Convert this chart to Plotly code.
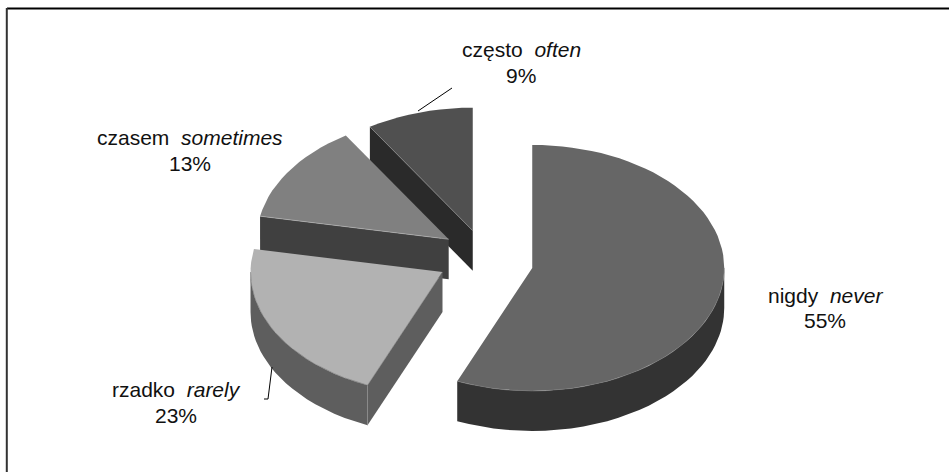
import numpy as np
import plotly.graph_objects as go

# Survey shares, clockwise from twelve o'clock
labels_pl = ["nigdy", "rzadko", "czasem", "często"]
labels_en = ["never", "rarely", "sometimes", "often"]
shares = [55, 23, 13, 9]

top_colors = ["#666666", "#b2b2b2", "#808080", "#505050"]
wall_colors = ["#333333", "#5e5e5e", "#404040", "#2a2a2a"]
rim_colors = ["#7c7c7c", "#6c6c6c", "#b8b8b8", "#8c8c8c"]

# Draw order: back of the pie first
draw_order = [3, 2, 1, 0]

# Pie geometry in pie units: the radius is 1 on both axes, each axis has its own pixel scale
W, H = 949, 472
PX_X, PX_Y = 192.0, 123.0   # pixels per unit
CX, CY = 483.5, 262.0       # pixel position of the pie centre
PULL = 0.257                # explosion of every slice
DEPTH = 40.0 / PX_Y         # height of the cylinder
FRONT_WARP = 8.5            # degrees of widening on the near half of the tilted pie

# Fine placement of each exploded slice, in pixels
nudge_x = [0, 1.5, 6, 3]
nudge_y = [1, -6, -5, -1]


def x_data(px):
    return (px - CX) / PX_X


def y_data(py):
    return (CY - py) / PX_Y


def view_angle(a):
    """Angle on the drawn ellipse for a true slice angle; the near half looks wider."""
    a = np.asarray(a, dtype=float)
    near = (a > 90) & (a < 270)
    return np.where(near, a + FRONT_WARP * np.sin(np.radians(2 * a)), a)


def rim(a0, a1):
    a = np.linspace(a0, a1, max(int(abs(a1 - a0) / 3), 2) + 1)
    t = np.radians(view_angle(a))
    return np.sin(t), np.cos(t)


fig = go.Figure()


def poly(x, y, color):
    fig.add_trace(go.Scatter(x=list(x) + [x[0]], y=list(y) + [y[0]], mode="lines",
                             fill="toself", fillcolor=color, line=dict(width=0),
                             hoverinfo="skip", showlegend=False))


def edge(x, y, color):
    fig.add_trace(go.Scatter(x=list(x), y=list(y), mode="lines",
                             line=dict(width=0.6, color=color),
                             hoverinfo="skip", showlegend=False))


edges = np.cumsum([0] + shares) / sum(shares) * 360.0
for i in draw_order:
    a0, a1 = edges[i], edges[i + 1]
    mid = np.radians((a0 + a1) / 2)
    ox = PULL * np.sin(mid) + nudge_x[i] / PX_X
    oy = PULL * np.cos(mid) - nudge_y[i] / PX_Y
    rx, ry = rim(a0, a1)
    tx = ox + np.r_[0.0, rx]
    ty = oy + np.r_[0.0, ry]

    # cut face on the leading edge, seen only when it looks towards the viewer
    has_cut = np.sin(np.radians(a0)) < -1e-6
    if has_cut:
        ex, ey = ox + rx[0], oy + ry[0]
        poly([ox, ex, ex, ox], [oy, ey, ey - DEPTH, oy - DEPTH], wall_colors[i])

    # outer wall on the front half of the rim
    lo, hi = max(a0, 90.0), min(a1, 270.0)
    if hi > lo:
        wx, wy = rim(lo, hi)
        wx, wy = ox + wx, oy + wy
        poly(np.r_[wx, wx[::-1]], np.r_[wy, wy[::-1] - DEPTH], wall_colors[i])

    poly(tx, ty, top_colors[i])

    if has_cut:
        edge([ox, ex], [oy, ey], rim_colors[i])
    if hi > lo:
        edge(wx, wy, rim_colors[i])
        # the upright corner where the outer wall meets the cut face
        if has_cut:
            edge([ex, ex], [ey, ey - DEPTH], "#8e8e8e")

# Leader lines for the two labels that sit away from their slices
leaders = [([418, 452], [111, 88]), ([272, 268, 264], [367, 399, 399])]
for lx, ly in leaders:
    fig.add_trace(go.Scatter(x=[x_data(v) for v in lx], y=[y_data(v) for v in ly],
                             mode="lines", line=dict(width=1, color="#000000"),
                             hoverinfo="skip", showlegend=False))

# Label anchors in pixels, in the order of the shares: name line and percentage line
label_x = [825, 176, 190, 521]
name_y = [295, 389.5, 137.5, 49]
pct_y = [320, 415, 163, 75]
font = dict(family="Liberation Sans", size=21, color="#111111")
annotations = []
for i in range(4):
    annotations.append(dict(x=label_x[i] / W, y=1 - name_y[i] / H, xref="paper", yref="paper",
                            text=f"{labels_pl[i]}  <i>{labels_en[i]}</i>", showarrow=False,
                            xanchor="center", yanchor="middle", font=font))
    annotations.append(dict(x=label_x[i] / W, y=1 - pct_y[i] / H, xref="paper", yref="paper",
                            text=f"{shares[i]}%", showarrow=False,
                            xanchor="center", yanchor="middle", font=font))

# The frame is open on the right and at the bottom
shapes = [
    dict(type="line", xref="paper", yref="paper", x0=7 / W, x1=1, y0=1 - 8.5 / H, y1=1 - 8.5 / H,
         line=dict(color="#000000", width=2)),
    dict(type="line", xref="paper", yref="paper", x0=6.8 / W, x1=6.8 / W, y0=0, y1=1 - 8 / H,
         line=dict(color="#333333", width=2)),
]

fig.update_layout(
    width=W, height=H, margin=dict(l=0, r=0, t=0, b=0),
    paper_bgcolor="#ffffff", plot_bgcolor="#ffffff",
    xaxis=dict(range=[x_data(0), x_data(W)], visible=False),
    yaxis=dict(range=[y_data(H), y_data(0)], visible=False),
    annotations=annotations, shapes=shapes,
)
fig.write_html("out.html")
